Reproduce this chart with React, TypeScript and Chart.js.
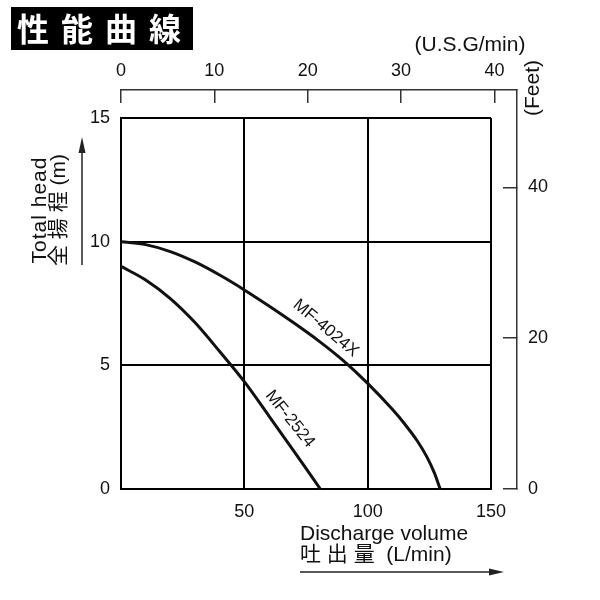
import { useEffect, useRef } from "react";
import { Chart, registerables } from "chart.js";

Chart.register(...registerables);

// ---- data ----
const mf4024xFlow = [0, 10, 20, 30, 40, 50, 60, 70, 80, 90, 100, 110, 115, 120, 124, 127, 129.4];
const mf4024xHead = [10, 9.88, 9.6, 9.18, 8.65, 8.05, 7.4, 6.72, 6.0, 5.2, 4.27, 3.22, 2.63, 1.96, 1.3, 0.66, 0];
const mf2524Flow = [0, 10, 20, 30, 40, 50, 60, 70, 75, 80.8];
const mf2524Head = [9.0, 8.45, 7.7, 6.73, 5.56, 4.34, 2.95, 1.54, 0.83, 0];

const flowTicks = [50, 100, 150]; // L/min
const headTicks = [0, 5, 10, 15]; // m
const gpmTicks = [0, 10, 20, 30, 40]; // U.S.G/min
const feetTicks = [0, 20, 40]; // Feet

const curveNames = ["MF-4024X", "MF-2524"];
const curveLabelFlow = [83, 68.5];
const curveLabelHead = [6.5, 2.83];
const curveLabelAngle = [40, 51];

const FLOW_MAX = 150;
const HEAD_MAX = 15;
const LITRES_PER_GAL = 3.78541;
const METRES_PER_FOOT = 0.3048;

// ---- layout ----
const PLOT_LEFT = 121;
const PLOT_RIGHT = 491;
const PLOT_TOP = 118;
const PLOT_BOTTOM = 489;
const OUTER_RIGHT = 517;
const OUTER_TOP = 90;

const FONT = '"Liberation Sans", Arial, "Noto Sans CJK JP", sans-serif';
const CJK = '"Noto Sans CJK JP", "Liberation Sans", sans-serif';

const toPoints = (xs: number[], ys: number[]) => xs.map((x, i) => ({ x, y: ys[i] }));

const annotate = {
  id: "annotate",
  afterDraw(chart: any) {
    const ctx: CanvasRenderingContext2D = chart.ctx;
    const xs = chart.scales.x;
    const ys = chart.scales.y;
    ctx.save();

    // title box
    ctx.fillStyle = "#000";
    ctx.fillRect(11, 7, 182, 43);
    ctx.fillStyle = "#fff";
    ctx.font = `bold 32px ${CJK}`;
    ctx.textBaseline = "middle";
    ctx.textAlign = "left";
    (ctx as any).letterSpacing = "12px";
    ctx.fillText("性能曲線", 17, 29);
    (ctx as any).letterSpacing = "0px";

    // curve labels
    ctx.fillStyle = "#111";
    ctx.font = `17px ${FONT}`;
    ctx.textAlign = "center";
    ctx.textBaseline = "middle";
    curveNames.forEach((name, i) => {
      ctx.save();
      ctx.translate(xs.getPixelForValue(curveLabelFlow[i]), ys.getPixelForValue(curveLabelHead[i]));
      ctx.rotate((curveLabelAngle[i] * Math.PI) / 180);
      ctx.fillText(name, 0, 0);
      ctx.restore();
    });

    // y axis title
    ctx.font = `21px ${FONT}`;
    ctx.save();
    ctx.translate(40, 210);
    ctx.rotate(-Math.PI / 2);
    (ctx as any).letterSpacing = "1px";
    ctx.fillText("Total head", 0, 0);
    ctx.restore();
    ctx.save();
    ctx.translate(59, 210);
    ctx.rotate(-Math.PI / 2);
    ctx.fillText("全 揚 程 (m)", 0, 0);
    ctx.restore();

    // unit labels
    ctx.fillText("(U.S.G/min)", 470, 45);
    ctx.save();
    ctx.translate(533, 88);
    ctx.rotate(-Math.PI / 2);
    ctx.fillText("(Feet)", 0, 0);
    ctx.restore();

    // x axis title
    ctx.textAlign = "left";
    ctx.fillText("Discharge volume", 300, 534);
    ctx.fillText("吐 出 量  (L/min)", 300, 555);

    // arrows
    ctx.strokeStyle = "#222";
    ctx.fillStyle = "#222";
    ctx.lineWidth = 1.5;
    ctx.beginPath();
    ctx.moveTo(82, 265);
    ctx.lineTo(82, 150);
    ctx.stroke();
    ctx.beginPath();
    ctx.moveTo(82, 137);
    ctx.lineTo(78.5, 153);
    ctx.lineTo(85.5, 153);
    ctx.closePath();
    ctx.fill();

    ctx.beginPath();
    ctx.moveTo(300, 572);
    ctx.lineTo(490, 572);
    ctx.stroke();
    ctx.beginPath();
    ctx.moveTo(504, 572);
    ctx.lineTo(489, 568.5);
    ctx.lineTo(489, 575.5);
    ctx.closePath();
    ctx.fill();

    ctx.restore();
  },
};

export default function App() {
  const mainRef = useRef<HTMLCanvasElement>(null);
  const outerRef = useRef<HTMLCanvasElement>(null);

  useEffect(() => {
    if (!mainRef.current || !outerRef.current) return;

    const main = new Chart(mainRef.current, {
      type: "line",
      data: {
        datasets: [
          {
            label: curveNames[0],
            data: toPoints(mf4024xFlow, mf4024xHead),
            borderColor: "#111",
            borderWidth: 3,
            pointRadius: 0,
            cubicInterpolationMode: "monotone",
            fill: false,
          },
          {
            label: curveNames[1],
            data: toPoints(mf2524Flow, mf2524Head),
            borderColor: "#111",
            borderWidth: 3,
            pointRadius: 0,
            cubicInterpolationMode: "monotone",
            fill: false,
          },
        ],
      },
      options: {
        animation: false,
        responsive: false,
        events: [],
        layout: { padding: { left: 0, top: PLOT_TOP, right: 600 - PLOT_RIGHT, bottom: 0 } },
        plugins: { legend: { display: false }, tooltip: { enabled: false } },
        scales: {
          x: {
            type: "linear",
            position: "bottom",
            min: 0,
            max: FLOW_MAX,
            afterBuildTicks: (s: any) => {
              s.ticks = flowTicks.map((v) => ({ value: v }));
            },
            afterFit: (s: any) => {
              s.height = 600 - PLOT_BOTTOM;
            },
            grid: { color: "#000", lineWidth: 2, drawTicks: false },
            border: { display: true, color: "#000", width: 2 },
            ticks: { padding: 12, color: "#111", font: { size: 18, family: FONT }, maxRotation: 0, autoSkip: false },
          },
          y: {
            type: "linear",
            position: "left",
            min: 0,
            max: HEAD_MAX,
            afterBuildTicks: (s: any) => {
              s.ticks = headTicks.map((v) => ({ value: v }));
            },
            afterFit: (s: any) => {
              s.width = PLOT_LEFT;
            },
            grid: { color: "#000", lineWidth: 2, drawTicks: false },
            border: { display: true, color: "#000", width: 2 },
            ticks: { padding: 11, color: "#111", font: { size: 18, family: FONT }, autoSkip: false },
          },
        },
      },
      plugins: [annotate],
    } as any);

    const gpmMax = (FLOW_MAX / LITRES_PER_GAL) * ((OUTER_RIGHT - PLOT_LEFT) / (PLOT_RIGHT - PLOT_LEFT));
    const feetMax = (HEAD_MAX / METRES_PER_FOOT) * ((PLOT_BOTTOM - OUTER_TOP) / (PLOT_BOTTOM - PLOT_TOP));

    const outer = new Chart(outerRef.current, {
      type: "line",
      data: { datasets: [] },
      options: {
        animation: false,
        responsive: false,
        events: [],
        layout: { padding: { left: PLOT_LEFT, top: 0, right: 0, bottom: 600 - PLOT_BOTTOM } },
        plugins: { legend: { display: false }, tooltip: { enabled: false } },
        scales: {
          x: {
            type: "linear",
            position: "top",
            min: 0,
            max: gpmMax,
            afterBuildTicks: (s: any) => {
              s.ticks = gpmTicks.map((v) => ({ value: v }));
            },
            afterFit: (s: any) => {
              s.height = OUTER_TOP;
            },
            grid: { drawOnChartArea: false, drawTicks: true, tickLength: -13, color: "#333", lineWidth: 1.5 },
            border: { display: true, color: "#333", width: 1.5 },
            ticks: { padding: 21, color: "#111", font: { size: 18, family: FONT }, maxRotation: 0, autoSkip: false },
          },
          y: {
            type: "linear",
            position: "right",
            min: 0,
            max: feetMax,
            afterBuildTicks: (s: any) => {
              s.ticks = feetTicks.map((v) => ({ value: v }));
            },
            afterFit: (s: any) => {
              s.width = 600 - OUTER_RIGHT;
            },
            grid: { drawOnChartArea: false, drawTicks: true, tickLength: -14, color: "#333", lineWidth: 1.5 },
            border: { display: true, color: "#333", width: 1.5 },
            ticks: { padding: 25, color: "#111", font: { size: 18, family: FONT }, autoSkip: false },
          },
        },
      },
    } as any);

    return () => {
      main.destroy();
      outer.destroy();
    };
  }, []);

  const canvasStyle: React.CSSProperties = { position: "absolute", left: 0, top: 0, width: 600, height: 600 };

  return (
    <div style={{ position: "absolute", left: 0, top: 0, width: 600, height: 600, background: "#fff" }}>
      <canvas ref={mainRef} width={600} height={600} style={canvasStyle} />
      <canvas ref={outerRef} width={600} height={600} style={canvasStyle} />
    </div>
  );
}
